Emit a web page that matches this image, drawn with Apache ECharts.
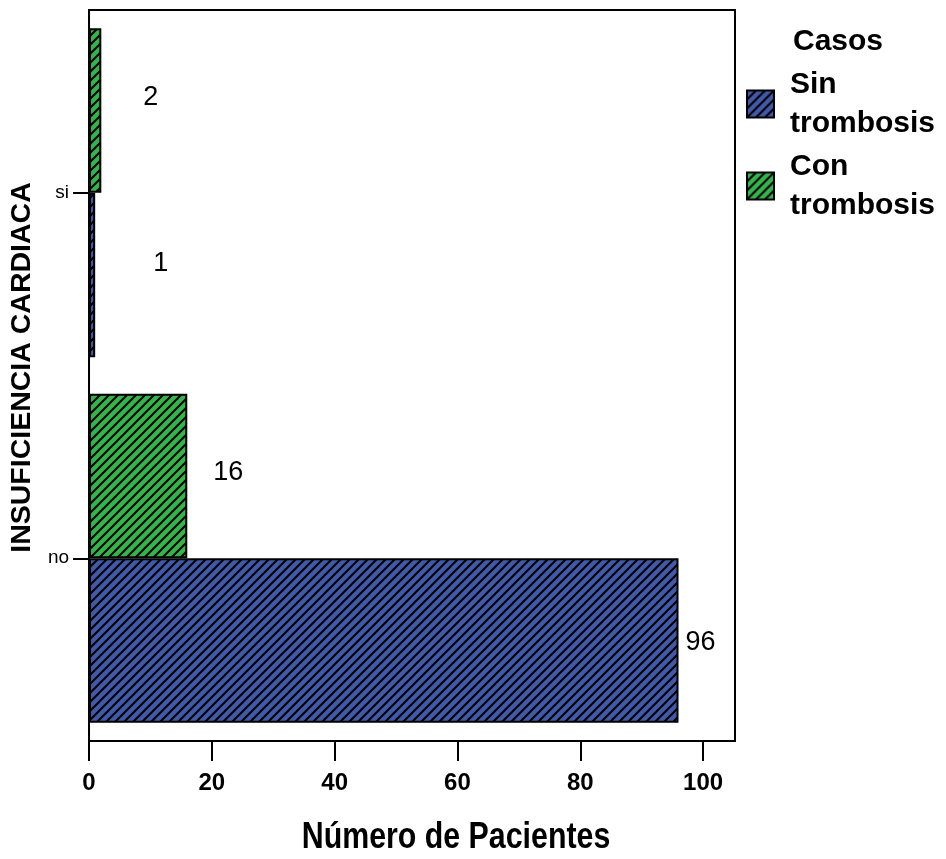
<!DOCTYPE html>
<html>
<head>
<meta charset="utf-8">
<script src="https://cdn.jsdelivr.net/npm/echarts@6/dist/echarts.min.js"></script>
<style>
  html, body { margin: 0; padding: 0; background: #fff; }
  #chart { width: 946px; height: 859px; }
</style>
</head>
<body>
<div id="chart"></div>
<script>
// data
const categories = ["no", "si"];
const seriesNames = ["Sin trombosis", "Con trombosis"];
const sinTrombosis = [96, 1];
const conTrombosis = [16, 2];
const xTicks = [0, 20, 40, 60, 80, 100];
const xTitle = "Número de Pacientes";

// label nudges (px) so the value labels sit where the original has them
const sinLabelShift = [[2, 2], [53, -11]];
const conLabelShift = [[21, -3], [37, -13]];

const FONT = '"Liberation Sans", Arial, sans-serif';
const BLUE = "#4059a9";
const GREEN = "#33b54a";

function makeHatch(fill) {
  const size = 9;
  const c = document.createElement("canvas");
  c.width = size;
  c.height = size;
  const ctx = c.getContext("2d");
  ctx.fillStyle = fill;
  ctx.fillRect(0, 0, size, size);
  ctx.strokeStyle = "#000";
  ctx.lineWidth = 2;
  ctx.beginPath();
  for (const k of [0, size, 2 * size]) {
    ctx.moveTo(-2, k + 2);
    ctx.lineTo(k + 2, -2);
  }
  ctx.stroke();
  return { image: c, repeat: "repeat" };
}

function barData(values, shifts) {
  return values.map((v, i) => ({
    value: v,
    label: { offset: shifts[i] }
  }));
}

const chart = echarts.init(document.getElementById("chart"));

const barLabel = {
  show: true,
  position: "right",
  distance: 5,
  color: "#000",
  fontFamily: FONT,
  fontSize: 27
};

// in a horizontal bar chart the first series sits on top, so "Con" goes first
chart.setOption({
  backgroundColor: "#fff",
  animation: false,
  title: {
    text: "Casos",
    left: 793,
    top: 27,
    padding: 0,
    textStyle: { fontFamily: FONT, fontSize: 30, fontWeight: "bold", color: "#000" }
  },
  legend: {
    orient: "vertical",
    left: 746,
    top: 65,
    padding: 0,
    icon: "rect",
    itemWidth: 27,
    itemHeight: 27,
    itemGap: 4,
    data: seriesNames,
    formatter: (name) => name.replace(" ", "\n"),
    textStyle: {
      fontFamily: FONT,
      fontSize: 30,
      fontWeight: "bold",
      color: "#000",
      lineHeight: 39,
      padding: [0, 0, 0, 11]
    }
  },
  grid: {
    left: 89,
    right: 211,
    top: 10,
    bottom: 118,
    show: true,
    borderColor: "#000",
    borderWidth: 2
  },
  graphic: [
    {
      type: "text",
      x: 456,
      y: 838,
      scaleX: 0.82,
      style: {
        text: xTitle,
        align: "center",
        verticalAlign: "middle",
        fontFamily: FONT,
        fontSize: 37,
        fontWeight: "bold",
        fill: "#000"
      }
    }
  ],
  xAxis: {
    type: "value",
    min: 0,
    max: 105.2,
    interval: 20,
    splitLine: { show: false },
    axisLine: { show: true, lineStyle: { color: "#000", width: 2 } },
    axisTick: {
      show: true,
      length: 20,
      customValues: xTicks,
      lineStyle: { color: "#000", width: 2 }
    },
    axisLabel: {
      customValues: xTicks,
      margin: 30,
      color: "#000",
      fontFamily: FONT,
      fontSize: 24,
      fontWeight: "bold"
    }
  },
  yAxis: {
    type: "category",
    data: categories,
    axisLine: { show: true, lineStyle: { color: "#000", width: 2 } },
    axisTick: {
      show: true,
      alignWithLabel: true,
      length: 16,
      lineStyle: { color: "#000", width: 2 }
    },
    axisLabel: {
      margin: 20,
      color: "#000",
      fontFamily: FONT,
      fontSize: 19
    },
    name: "INSUFICIENCIA CARDIACA",
    nameLocation: "middle",
    nameRotate: 90,
    nameGap: 52,
    nameTextStyle: {
      fontFamily: FONT,
      fontSize: 28.5,
      fontWeight: "bold",
      color: "#000",
      padding: [0, 0, 0, 16]
    }
  },
  series: [
    {
      name: seriesNames[1],
      type: "bar",
      barGap: "0%",
      barCategoryGap: "10%",
      data: barData(conTrombosis, conLabelShift),
      itemStyle: { color: makeHatch(GREEN), borderColor: "#000", borderWidth: 2 },
      label: barLabel
    },
    {
      name: seriesNames[0],
      type: "bar",
      barGap: "0%",
      barCategoryGap: "10%",
      data: barData(sinTrombosis, sinLabelShift),
      itemStyle: { color: makeHatch(BLUE), borderColor: "#000", borderWidth: 2 },
      label: barLabel
    }
  ]
});
</script>
</body>
</html>
